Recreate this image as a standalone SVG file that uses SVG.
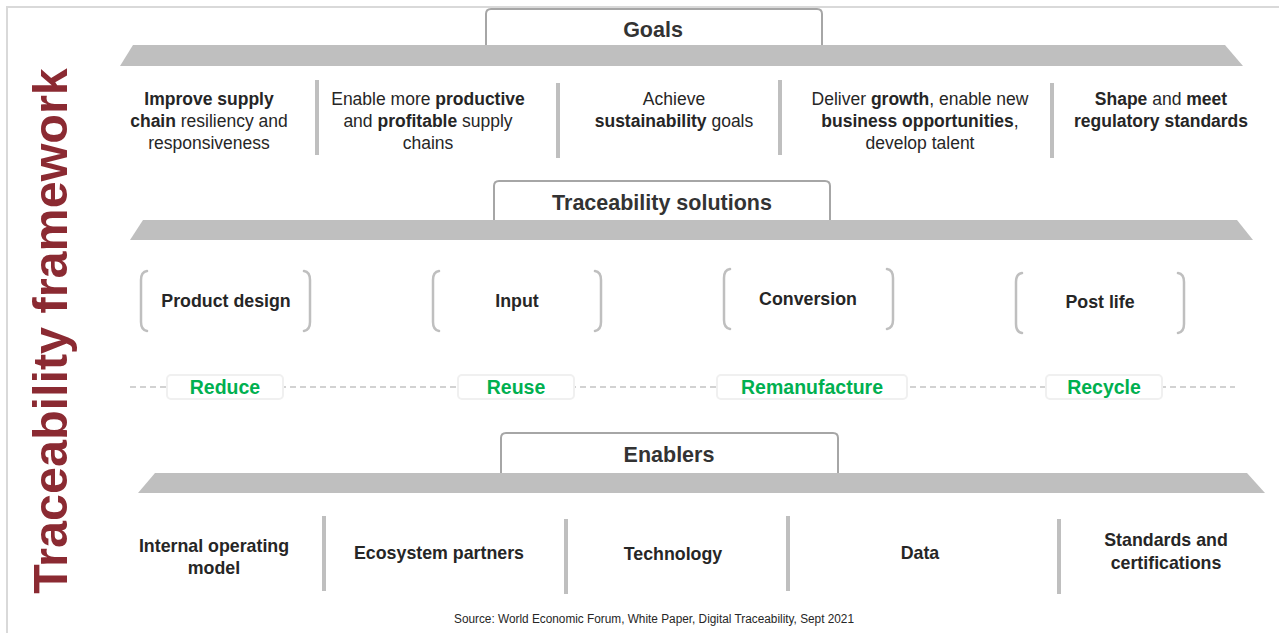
<svg xmlns="http://www.w3.org/2000/svg" width="1279" height="633" viewBox="0 0 1279 633">
<style>
.t{font-family:"Liberation Sans",Arial,sans-serif;fill:#262626;text-anchor:middle}
.b{font-weight:bold}
.h{font-size:21.5px;font-weight:bold;fill:#333}
.g{font-size:17.5px}
.e{font-size:17.8px;font-weight:bold}
.gr{font-family:"Liberation Sans",Arial,sans-serif;font-size:19.5px;font-weight:bold;fill:#00b050;text-anchor:middle}
.bar{fill:#bfbfbf}
.tab{fill:#fff;stroke:#a6a6a6;stroke-width:2}
.sep{stroke:#bfbfbf;stroke-width:4}
.br{fill:none;stroke:#bfbfbf;stroke-width:2.5;stroke-linecap:round}
.lbl{fill:#fff;stroke:#f0f0f0;stroke-width:2}
</style>
<rect width="1279" height="633" fill="#fff"/>
<path d="M7,633 V7 H1279" fill="none" stroke="#d9d9d9" stroke-width="2"/>
<text class="t b" transform="translate(67,331) rotate(-90)" style="font-size:48.5px;fill:#8b2a32">Traceability framework</text>

<g id="goals">
<path class="tab" d="M486,45 V14 Q486,9 491,9 H817 Q822,9 822,14 V45"/>
<text class="t h" x="653" y="37">Goals</text>
<path class="bar" d="M133,45 H1225 L1243,66 H120 Z"/>
</g>
<g id="goal1"><text class="t g" x="209" y="105"><tspan class="b">Improve supply</tspan></text><text class="t g" x="209" y="127"><tspan class="b">chain</tspan> resiliency and</text><text class="t g" x="209" y="149">responsiveness</text></g>
<g id="goal2"><text class="t g" x="428" y="105">Enable more <tspan class="b">productive</tspan></text><text class="t g" x="428" y="127">and <tspan class="b">profitable</tspan> supply</text><text class="t g" x="428" y="149">chains</text></g>
<g id="goal3"><text class="t g" x="674" y="105">Achieve</text><text class="t g" x="674" y="127"><tspan class="b">sustainability</tspan> goals</text></g>
<g id="goal4"><text class="t g" x="920" y="105">Deliver <tspan class="b">growth</tspan>, enable new</text><text class="t g" x="920" y="127"><tspan class="b">business opportunities</tspan>,</text><text class="t g" x="920" y="149">develop talent</text></g>
<g id="goal5"><text class="t g" x="1161" y="105"><tspan class="b">Shape</tspan> and <tspan class="b">meet</tspan></text><text class="t g b" x="1161" y="127">regulatory standards</text></g>

<g id="solutions">
<path class="tab" d="M494,220 V186 Q494,181 499,181 H825 Q830,181 830,186 V220"/>
<text class="t h" x="662" y="210">Traceability solutions</text>
<path class="bar" d="M143,220 H1237 L1253,240 H130 Z"/>
</g>
<g id="product-design"><path class="br" d="M147,271 Q141,272 141,280 V322 Q141,330 147,331 M304,271 Q310,272 310,280 V322 Q310,330 304,331"/><text class="t e" x="226" y="307">Product design</text></g>
<g id="input"><path class="br" d="M439,271 Q433,272 433,280 V322 Q433,330 439,331 M595,271 Q601,272 601,280 V322 Q601,330 595,331"/><text class="t e" x="517" y="307">Input</text></g>
<g id="conversion"><path class="br" d="M730,269 Q724,270 724,278 V320 Q724,328 730,329 M887,269 Q893,270 893,278 V320 Q893,328 887,329"/><text class="t e" x="808" y="305">Conversion</text></g>
<g id="post-life"><path class="br" d="M1022,273 Q1016,274 1016,282 V324 Q1016,332 1022,333 M1178,273 Q1184,274 1184,282 V324 Q1184,332 1178,333"/><text class="t e" x="1100" y="308">Post life</text></g>

<g id="connectors">
<line x1="130" y1="387" x2="1235" y2="387" stroke="#a6a6a6" stroke-width="1.2" stroke-dasharray="6,4"/>
<line class="sep" x1="317" y1="80" x2="317" y2="155"/>
<line class="sep" x1="558" y1="83" x2="558" y2="158"/>
<line class="sep" x1="780" y1="80" x2="780" y2="155"/>
<line class="sep" x1="1052" y1="83" x2="1052" y2="158"/>
<line class="sep" x1="324" y1="516" x2="324" y2="591"/>
<line class="sep" x1="566" y1="519" x2="566" y2="594"/>
<line class="sep" x1="788" y1="516" x2="788" y2="591"/>
<line class="sep" x1="1059" y1="519" x2="1059" y2="594"/>
</g>
<g id="reduce"><rect class="lbl" x="167" y="375" width="116" height="24" rx="4"/><text class="gr" x="225" y="394">Reduce</text></g>
<g id="reuse"><rect class="lbl" x="458" y="375" width="116" height="24" rx="4"/><text class="gr" x="516" y="394">Reuse</text></g>
<g id="remanufacture"><rect class="lbl" x="717" y="375" width="190" height="24" rx="4"/><text class="gr" x="812" y="394">Remanufacture</text></g>
<g id="recycle"><rect class="lbl" x="1046" y="375" width="116" height="24" rx="4"/><text class="gr" x="1104" y="394">Recycle</text></g>

<g id="enablers">
<path class="tab" d="M501,473 V438 Q501,433 506,433 H833 Q838,433 838,438 V473"/>
<text class="t h" x="669" y="462">Enablers</text>
<path class="bar" d="M155,473 H1247 L1265,493 H138 Z"/>
</g>
<g id="internal"><text class="t e" x="214" y="552">Internal operating</text><text class="t e" x="214" y="574">model</text></g>
<g id="ecosystem"><text class="t e" x="439" y="559">Ecosystem partners</text></g>
<g id="technology"><text class="t e" x="673" y="560">Technology</text></g>
<g id="data"><text class="t e" x="920" y="559">Data</text></g>
<g id="standards"><text class="t e" x="1166" y="546">Standards and</text><text class="t e" x="1166" y="569">certifications</text></g>

<text class="t" x="654" y="623" style="font-size:12px" textLength="400" lengthAdjust="spacingAndGlyphs">Source: World Economic Forum, White Paper, Digital Traceability, Sept 2021</text>
</svg>
